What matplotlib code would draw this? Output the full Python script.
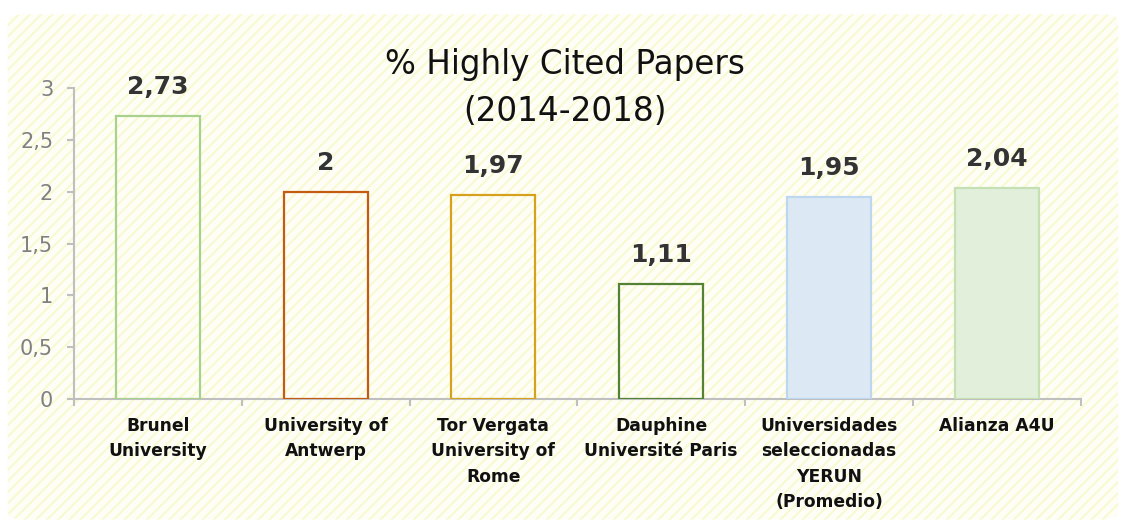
"""Bar chart: % Highly Cited Papers (2014-2018)."""

import matplotlib
matplotlib.use("Agg")
import matplotlib.pyplot as plt
from matplotlib.patches import FancyBboxPatch

categories = [
    "Brunel\nUniversity",
    "University of\nAntwerp",
    "Tor Vergata\nUniversity of\nRome",
    "Dauphine\nUniversité Paris",
    "Universidades\nseleccionadas\nYERUN\n(Promedio)",
    "Alianza A4U",
]
values = [2.73, 2.0, 1.97, 1.11, 1.95, 2.04]
value_labels = ["2,73", "2", "1,97", "1,11", "1,95", "2,04"]
face_colors = ["none", "none", "none", "none", "#dde8f5", "#e2efda"]
edge_colors = ["#a9d18e", "#c55a11", "#d6a21e", "#548235", "#bdd7ee", "#c5e0b4"]
y_ticks = [0, 0.5, 1, 1.5, 2, 2.5, 3]
y_tick_labels = ["0", "0,5", "1", "1,5", "2", "2,5", "3"]
title_lines = ["% Highly Cited Papers", "(2014-2018)"]

plt.rcParams["font.family"] = ["DejaVu Sans"]
plt.rcParams["hatch.linewidth"] = 1.4

fig = plt.figure(figsize=(11.26, 5.28), dpi=100)

# hatched pale-yellow background panel, kept behind the axes
bg = FancyBboxPatch((0.007, 0.016), 0.986, 0.957, boxstyle="round,pad=0,rounding_size=0.015",
                    transform=fig.transFigure, facecolor="#fefef7", edgecolor="none", zorder=-2)
fig.patches.append(bg)
hatch = FancyBboxPatch((0.007, 0.016), 0.986, 0.957, boxstyle="round,pad=0,rounding_size=0.015",
                       transform=fig.transFigure, facecolor="none", edgecolor="#f9f9cf",
                       linewidth=0, hatch="///", zorder=-1)
fig.patches.append(hatch)

ax = fig.add_axes([0.0657, 0.2443, 0.894, 0.589])
ax.patch.set_alpha(0)

x = range(len(categories))
ax.bar(x, values, width=0.5, color=face_colors, edgecolor=edge_colors, linewidth=1.6, zorder=3)

for xi, v, lab in zip(x, values, value_labels):
    ax.annotate(lab, (xi, v), xytext=(0, 12), textcoords="offset points",
                ha="center", va="bottom", fontsize=18, fontweight="bold", color="#333333")

ax.set_xlim(-0.5, len(categories) - 0.5)
ax.set_ylim(0, 3)
ax.set_yticks(y_ticks)
ax.set_yticklabels(y_tick_labels, fontsize=15, color="#808080")
ax.set_xticks([i - 0.5 for i in range(len(categories) + 1)])
ax.set_xticklabels([])
ax.set_xticks(list(x), minor=True)
ax.set_xticklabels(categories, minor=True, fontsize=12.3, fontweight="bold", color="#111111",
                   linespacing=1.52, va="top")
ax.tick_params(axis="x", which="minor", length=0, pad=13)
ax.tick_params(axis="x", which="major", length=5, color="#bfbfbf", width=1.5)
ax.tick_params(axis="y", length=5, color="#bfbfbf", width=1.5, pad=10)

for side in ["top", "right"]:
    ax.spines[side].set_visible(False)
for side in ["left", "bottom"]:
    ax.spines[side].set_color("#bfbfbf")
    ax.spines[side].set_linewidth(1.5)

fig.text(0.502, 0.860, title_lines[0], ha="center", va="baseline", fontsize=23.5, color="#111111")
fig.text(0.502, 0.771, title_lines[1], ha="center", va="baseline", fontsize=23.5, color="#111111")

fig.savefig("out.png", dpi=100)
